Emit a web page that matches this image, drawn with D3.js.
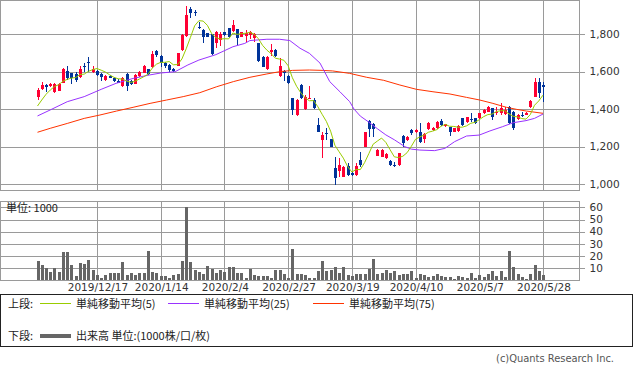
<!DOCTYPE html>
<html>
<head>
<meta charset="utf-8">
<script src="https://cdn.jsdelivr.net/npm/d3@7"></script>
<style>
  body { margin: 0; background: #fff; }
  svg { display: block; }
  .axis text { font-family: "DejaVu Sans", sans-serif; font-size: 10.5px; fill: #333; }
  .jp { font-family: "Noto Sans CJK JP", sans-serif; font-size: 11px; fill: #222; }
</style>
</head>
<body>
<div id="chart"></div>
<script>
// ---- data ----
const dateLabels = ["2019/12/17", "2020/1/14", "2020/2/4", "2020/2/27", "2020/3/19", "2020/4/10", "2020/5/7", "2020/5/28"];
const dateIndex = [14, 29, 44, 59, 74, 89, 104, 119];

const openPrice = [1466,1506,1528,1522,1492,1497,1540,1602,1590,1586,1572,1632,1650,1599,1604,1586,1554,1576,1568,1549,
  1524,1586,1549,1536,1576,1594,1611,1625,1709,1682,1647,1634,1616,1631,1714,1789,1931,1917,1836,1821,
  1804,1798,1750,1768,1809,1830,1818,1825,1786,1789,1795,1777,1750,1679,1611,1702,1714,1576,1602,1576,
  1457,1368,1528,1398,1451,1448,1315,1235,1272,1238,1083,1071,1039,1096,1060,1048,1128,1199,1338,1320,
  1151,1146,1137,1122,1103,1099,1256,1235,1288,1276,1279,1238,1292,1288,1300,1338,1309,1302,1279,1284,
  1350,1332,1346,1350,1350,1377,1386,1404,1377,1381,1373,1412,1386,1345,1368,1368,1412,1466,1543,1530];
const highPrice = [1510,1545,1533,1540,1538,1540,1620,1629,1594,1599,1629,1647,1675,1629,1607,1590,1580,1580,1572,1558,
  1572,1594,1554,1586,1603,1633,1616,1709,1714,1686,1650,1638,1620,1700,1800,1949,1942,1928,1866,1825,
  1808,1802,1816,1812,1812,1834,1874,1828,1812,1821,1818,1804,1754,1682,1682,1745,1718,1670,1606,1580,
  1461,1452,1532,1474,1522,1457,1350,1279,1297,1242,1146,1137,1096,1110,1064,1110,1172,1279,1341,1324,
  1185,1185,1163,1126,1119,1166,1260,1256,1292,1292,1323,1270,1332,1304,1336,1347,1322,1305,1300,1313,
  1354,1360,1377,1354,1381,1399,1418,1408,1412,1430,1412,1416,1390,1372,1386,1384,1450,1564,1564,1545];
const lowPrice = [1448,1501,1492,1515,1487,1494,1537,1554,1531,1545,1568,1599,1599,1590,1578,1551,1551,1563,1542,1537,
  1520,1497,1527,1532,1572,1590,1582,1620,1679,1625,1617,1599,1600,1627,1710,1785,1884,1896,1828,1754,
  1782,1689,1728,1738,1792,1778,1812,1741,1782,1759,1772,1759,1652,1622,1607,1683,1678,1572,1550,1533,
  1368,1364,1452,1394,1451,1400,1275,1137,1235,1195,995,1039,1035,1044,1044,1044,1092,1195,1252,1252,
  1148,1143,1134,1098,1092,1096,1199,1231,1261,1272,1217,1217,1288,1284,1296,1311,1306,1255,1276,1280,
  1311,1328,1332,1320,1346,1373,1382,1341,1368,1368,1370,1320,1288,1341,1359,1366,1408,1462,1460,1435];
const closePrice = [1501,1528,1519,1533,1536,1536,1616,1568,1568,1554,1616,1625,1643,1613,1581,1572,1576,1567,1549,1540,
  1568,1522,1531,1581,1599,1629,1586,1693,1688,1647,1631,1608,1604,1697,1795,1901,1914,1915,1830,1786,
  1786,1693,1812,1800,1796,1782,1848,1777,1809,1804,1809,1798,1656,1626,1679,1714,1682,1629,1594,1537,
  1395,1448,1457,1462,1457,1403,1279,1261,1268,1199,1030,1101,1092,1048,1048,1096,1101,1275,1292,1294,
  1181,1181,1160,1101,1101,1163,1217,1252,1274,1288,1226,1267,1327,1300,1332,1315,1318,1275,1297,1309,
  1315,1356,1343,1324,1377,1395,1412,1359,1386,1404,1395,1324,1297,1368,1363,1380,1441,1546,1487,1515];
const volume = [16,12.5,10,7,10,7,23,23,12,3,14,13.5,16.5,8,4.5,2,4.5,6,5.5,6,
  14.5,4,5.5,4.5,6,6,24,6.5,5.5,3.5,3,1.5,4.5,5,16,60,15,8,7,5,
  11.5,9.5,6,8,7,11,11,5.5,6,2,9.5,4,3.5,3.5,3.5,1.5,8,8,5,2,
  26,5,5,4,1.5,2,7.5,16,7.5,8.3,10.5,5.5,10.5,4,3.3,4.7,4.7,5,9,17,
  5,5.5,8.3,6,7.5,4,4.7,5,7.5,1.4,4.7,4,2.8,3.3,4.7,3.3,2.2,2.2,0.8,3.3,
  2.2,1.4,5.5,2,4,2.8,4.7,7.5,3.3,7.5,2.2,24,10.5,5,2.2,0.5,5,12.4,7.5,4];

const ma5 = [1416,1448,1478,1501,1520,1530,1548,1558,1565,1568,1584,1586,1601,1610,1616,1607,1597,1582,1569,1561,
  1560,1549,1542,1548,1560,1572,1585,1618,1639,1649,1649,1653,1636,1637,1667,1721,1782,1844,1871,1869,
  1846,1802,1781,1773,1775,1774,1805,1798,1802,1804,1809,1799,1775,1739,1714,1695,1671,1666,1660,1631,
  1567,1521,1486,1460,1444,1445,1412,1372,1334,1282,1207,1172,1138,1094,1064,1077,1077,1114,1162,1212,
  1229,1245,1222,1183,1145,1141,1148,1167,1201,1239,1251,1261,1276,1282,1290,1308,1318,1308,1307,1303,
  1303,1310,1324,1329,1343,1359,1370,1373,1386,1391,1391,1374,1361,1358,1349,1346,1370,1420,1443,1474];
// [day index, value]
const ma25 = [[0,1363],[3,1395],[7,1439],[11,1466],[15,1505],[18.5,1537],[22.5,1563],[26,1580],[29,1592],[32.4,1599],
  [35.4,1635],[38,1661],[42,1690],[46,1732],[48.8,1750],[50,1765],[54,1772],[57,1772],[59.4,1765],[61.8,1724],
  [64,1697],[66.5,1645],[68.8,1546],[71.2,1492],[73.5,1439],[74.5,1400],[76,1362],[78,1330],[80,1295],[82,1262],
  [84,1236],[86.5,1199],[88,1186],[90,1181],[93.5,1178],[95.9,1190],[98.2,1226],[101,1256],[104,1261],[106.5,1283],
  [109.5,1306],[112,1327],[115,1338],[117,1350],[119,1373]];
const ma75 = [[0,1276],[3,1297],[7,1323],[11,1350],[14.7,1368],[18.6,1389],[22.5,1409],[26.5,1430],[30.4,1448],[34.3,1466],
  [38.2,1487],[42.2,1519],[46.1,1546],[50,1569],[54,1587],[57,1599],[60,1606],[64,1608],[67,1606],[69.5,1603],
  [73.5,1590],[77.5,1569],[81.5,1553],[85.3,1528],[89.2,1505],[93.1,1492],[97.1,1480],[101,1462],[104.1,1448],[107.2,1430],
  [110.4,1409],[112.8,1398],[115.1,1389],[119,1377]];

const priceTicks = [1000, 1200, 1400, 1600, 1800];
const volumeTicks = [10, 20, 30, 40, 50, 60];

// ---- drawing ----
const upColor = "#ff0033", downColor = "#003399", gridColor = "#9a9a9a";
const ma5Color = "#99cc00", ma25Color = "#9933ff", ma75Color = "#ff3300";

const svg = d3.select("#chart").append("svg").attr("width", 633).attr("height", 372);

const right = 579.5;
const x = d3.scaleLinear().domain([0, 119]).range([37.5, 543]);
const y = d3.scaleLinear().domain([1000, 1800]).range([184, 34]);
const vy = d3.scaleLinear().domain([0, 60]).range([280, 207.4]);
const px = i => Math.round(x(i));
const crisp = v => Math.round(v) + 0.5;

// panels
const grid = svg.append("g").attr("shape-rendering", "crispEdges").attr("stroke", gridColor).attr("fill", "none");
grid.append("rect").attr("x", 0.5).attr("y", 0.5).attr("width", right - 0.5).attr("height", 190);
grid.append("rect").attr("x", 0.5).attr("y", 201.5).attr("width", right - 0.5).attr("height", 79);

grid.selectAll(".hp").data(priceTicks).join("line")
  .attr("x1", 0.5).attr("x2", right).attr("y1", d => crisp(y(d))).attr("y2", d => crisp(y(d)));
grid.selectAll(".hv").data(volumeTicks).join("line")
  .attr("x1", 0.5).attr("x2", right).attr("y1", d => crisp(vy(d))).attr("y2", d => crisp(vy(d)));
grid.selectAll(".vp").data(dateIndex).join("line")
  .attr("x1", d => px(d) + 0.5).attr("x2", d => px(d) + 0.5).attr("y1", 0.5).attr("y2", 190.5);
grid.selectAll(".vv").data(dateIndex).join("line")
  .attr("x1", d => px(d) + 0.5).attr("x2", d => px(d) + 0.5).attr("y1", 201.5).attr("y2", 280.5);

// axes
function styleAxis(g) {
  g.select(".domain").remove();
  g.selectAll(".tick line").attr("stroke", gridColor).attr("shape-rendering", "crispEdges");
}
svg.append("g").attr("class", "axis").attr("transform", `translate(${right},0)`)
  .call(d3.axisRight(y).tickValues(priceTicks).tickFormat(d3.format(",")).tickSize(5).tickPadding(5))
  .call(styleAxis);
svg.append("g").attr("class", "axis").attr("transform", `translate(${right},0)`)
  .call(d3.axisRight(vy).tickValues(volumeTicks).tickSize(5).tickPadding(5))
  .call(styleAxis);
svg.append("g").attr("class", "axis").attr("transform", "translate(0.5,281)")
  .call(d3.axisBottom(x).tickValues(dateIndex).tickFormat((d, k) => dateLabels[k]).tickSize(0).tickPadding(3))
  .call(styleAxis);

// candles
const days = d3.range(closePrice.length);
const candles = svg.append("g").attr("shape-rendering", "crispEdges");
const col = i => closePrice[i] >= openPrice[i] ? upColor : downColor;
candles.selectAll("line").data(days).join("line")
  .attr("x1", i => px(i) + 0.5).attr("x2", i => px(i) + 0.5)
  .attr("y1", i => y(highPrice[i])).attr("y2", i => y(lowPrice[i]))
  .attr("stroke", col);
candles.selectAll("rect").data(days).join("rect")
  .attr("x", i => px(i) - 1).attr("width", 3)
  .attr("y", i => y(Math.max(openPrice[i], closePrice[i])))
  .attr("height", i => Math.max(1, Math.abs(y(openPrice[i]) - y(closePrice[i]))))
  .attr("fill", col);

// moving averages
const line = d3.line().x(d => x(d[0])).y(d => y(d[1]));
svg.append("path").datum(ma75).attr("d", line).attr("fill", "none").attr("stroke", ma75Color).attr("stroke-width", 1);
svg.append("path").datum(ma25).attr("d", line).attr("fill", "none").attr("stroke", ma25Color).attr("stroke-width", 1);
svg.append("path").datum(ma5.map((v, i) => [i, v])).attr("d", line).attr("fill", "none").attr("stroke", ma5Color).attr("stroke-width", 1);

// volume
svg.append("g").attr("shape-rendering", "crispEdges").selectAll("rect").data(days).join("rect")
  .attr("x", i => px(i) - 1).attr("width", 3)
  .attr("y", i => vy(volume[i])).attr("height", i => 280 - vy(volume[i]))
  .attr("fill", "#666");

svg.append("text").attr("class", "jp").attr("x", 6).attr("y", 212).text("単位: 1000");

// legend
svg.append("rect").attr("x", 0.5).attr("y", 294.5).attr("width", 632).attr("height", 52)
  .attr("fill", "none").attr("stroke", "#222").attr("shape-rendering", "crispEdges");

const legendItems = [
  { x: 40, color: ma5Color, label: "単純移動平均(5)" },
  { x: 168, color: ma25Color, label: "単純移動平均(25)" },
  { x: 313, color: ma75Color, label: "単純移動平均(75)" }
];
svg.append("text").attr("class", "jp").attr("x", 8).attr("y", 308).text("上段:");
const leg = svg.selectAll(".leg").data(legendItems).join("g");
leg.append("line").attr("x1", d => d.x).attr("x2", d => d.x + 31).attr("y1", 303.5).attr("y2", 303.5)
  .attr("stroke", d => d.color).attr("shape-rendering", "crispEdges");
leg.append("text").attr("class", "jp").attr("x", d => d.x + 36).attr("y", 308).text(d => d.label);

svg.append("text").attr("class", "jp").attr("x", 8).attr("y", 340).text("下段:");
svg.append("line").attr("x1", 40).attr("x2", 71).attr("y1", 336).attr("y2", 336)
  .attr("stroke", "#666").attr("stroke-width", 4);
svg.append("text").attr("class", "jp").attr("x", 76).attr("y", 340).text("出来高 単位:(1000株/口/枚)");

svg.append("text").attr("x", 614).attr("y", 362).attr("text-anchor", "end")
  .attr("font-family", "DejaVu Sans Condensed, DejaVu Sans, sans-serif").attr("font-size", "11px")
  .attr("fill", "#555").text("(c)Quants Research Inc.");
</script>
</body>
</html>
